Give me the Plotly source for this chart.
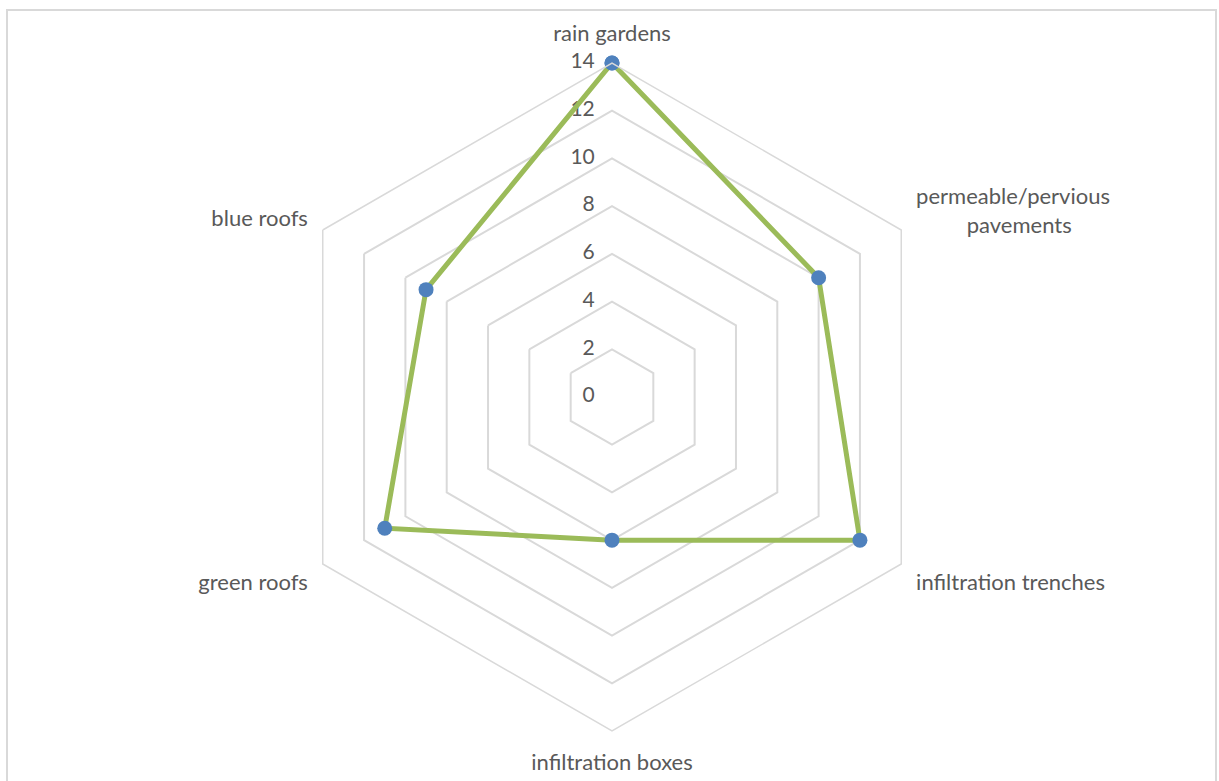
import plotly.graph_objects as go

# SuDS measures and their scores
categories = [
    "rain gardens",
    "permeable/pervious<br>" + "\u00a0" * 9 + "pavements",
    "infiltration trenches",
    "infiltration boxes",
    "green roofs",
    "blue roofs",
]
scores = [14, 10, 12, 6, 11, 9]
radial_ticks = [0, 2, 4, 6, 8, 10, 12, 14]

W, H = 1219, 781
cx, cy, R = 612, 397, 334  # chart centre and outer radius in pixels

GRID = "#d9d9d9"
TEXT = "#595959"
FONT = "Lato, Open Sans, sans-serif"

fig = go.Figure()

# radial value labels, set to the left of the vertical axis
# (the centre label gets a hair of radius so the point is not dropped)
fig.add_trace(go.Scatterpolar(
    r=[v if v else 1e-3 for v in radial_ticks],
    theta=[categories[0]] * len(radial_ticks),
    mode="markers+text",
    text=[str(v) for v in radial_ticks],
    textposition="middle left",
    textfont=dict(family=FONT, size=21, color=TEXT),
    marker=dict(size=26, opacity=0),
    cliponaxis=False,
    showlegend=False,
    hoverinfo="skip",
))

fig.add_trace(go.Scatterpolar(
    r=scores + scores[:1],
    theta=categories + categories[:1],
    mode="lines+markers",
    line=dict(color="#9bbb59", width=5),
    marker=dict(color="#4f81bd", size=15, line=dict(width=0)),
    cliponaxis=False,
    showlegend=False,
    hoverinfo="skip",
))

fig.update_layout(
    width=W, height=H,
    margin=dict(l=0, r=0, t=0, b=0),
    paper_bgcolor="white",
    font=dict(family=FONT, size=22, color=TEXT),
    polar=dict(
        domain=dict(x=[(cx - R) / W, (cx + R) / W],
                    y=[(H - cy - R) / H, (H - cy + R) / H]),
        bgcolor="white",
        gridshape="linear",
        radialaxis=dict(
            range=[0, 14],
            tickvals=radial_ticks,
            showticklabels=False,
            angle=90,
            showline=False,
            ticks="",
            gridcolor=GRID,
            gridwidth=1.5,
        ),
        angularaxis=dict(
            rotation=90,
            direction="clockwise",
            showline=True,
            linecolor=GRID,
            linewidth=1.5,
            showgrid=False,
            ticks="outside",
            ticklen=12,
            tickcolor="rgba(0,0,0,0)",
            tickfont=dict(family=FONT, size=22, color=TEXT),
        ),
    ),
    shapes=[dict(
        type="rect", xref="paper", yref="paper",
        x0=7 / W, x1=1216 / W, y0=-0.05, y1=1 - 10 / H,
        line=dict(color=GRID, width=2), fillcolor="rgba(0,0,0,0)",
    )],
)

fig.write_html("out.html")
